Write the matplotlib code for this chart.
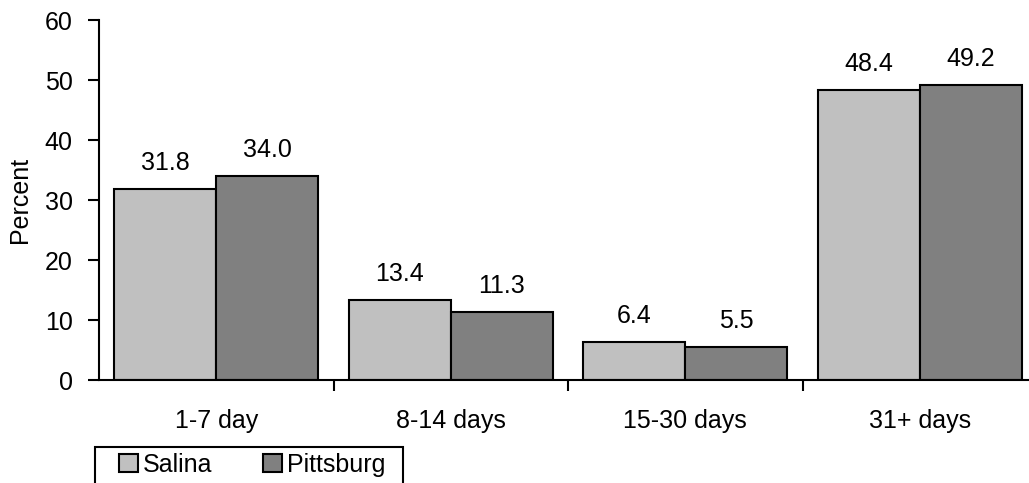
import matplotlib.pyplot as plt
from matplotlib.patches import Rectangle
import numpy as np

plt.rcParams['font.family'] = ['Liberation Sans', 'DejaVu Sans']

categories = ['1-7 day', '8-14 days', '15-30 days', '31+ days']
salina = [31.8, 13.4, 6.4, 48.4]
pittsburg = [34.0, 11.3, 5.5, 49.2]
series_names = ['Salina', 'Pittsburg']
yticks = [0, 10, 20, 30, 40, 50, 60]

FS = 18
W, H = 1029, 483
fig = plt.figure(figsize=(W / 100, H / 100), dpi=100)
# the plot area runs a little past the right edge of the figure
ax = fig.add_axes([99 / W, 1 - 380 / H, 938 / W, 360 / H])

x = np.arange(len(categories))
bw = 0.435
b1 = ax.bar(x - bw / 2, salina, bw, color='#c0c0c0', edgecolor='black', linewidth=1.5)
b2 = ax.bar(x + bw / 2, pittsburg, bw, color='#808080', edgecolor='black', linewidth=1.5)

for bars, vals in ((b1, salina), (b2, pittsburg)):
    for rect, v in zip(bars, vals):
        ax.annotate(f'{v:.1f}', (rect.get_x() + rect.get_width() / 2, v),
                    xytext=(0, 13.5), textcoords='offset points',
                    ha='center', va='baseline', fontsize=FS)

ax.set_xlim(-0.5, len(categories) - 0.5)
ax.set_ylim(0, 60)
ax.set_yticks(yticks)
ax.set_xticks(x)
ax.set_xticklabels(categories, fontsize=FS)
ax.set_xticks(np.arange(len(categories)) + 0.5, minor=True)
ax.tick_params(axis='x', which='major', length=0, pad=21)
ax.tick_params(axis='x', which='minor', length=8, width=1.5, direction='out')
ax.tick_params(axis='y', length=8, width=1.5, direction='out', labelsize=FS, pad=11)
ax.set_ylabel('Percent', fontsize=FS, labelpad=9)

for side in ('top', 'right'):
    ax.spines[side].set_visible(False)
for side in ('left', 'bottom'):
    ax.spines[side].set_linewidth(1.5)

# legend box sits under the axis and is cut by the bottom edge
frame = Rectangle((95 / W, -0.05), (403 - 95) / W, 1 - 447 / H + 0.05,
                  transform=fig.transFigure, facecolor='white',
                  edgecolor='black', linewidth=1.5)
fig.patches.append(frame)
leg = fig.legend([b1, b2], series_names, loc='upper left',
                 bbox_to_anchor=(119 / W, 1 - 453 / H), ncol=2,
                 fontsize=FS, frameon=False,
                 handlelength=0.75, handleheight=0.75, handletextpad=0.22,
                 columnspacing=2.0, borderpad=0, borderaxespad=0)

fig.savefig('out.png', dpi=100)
